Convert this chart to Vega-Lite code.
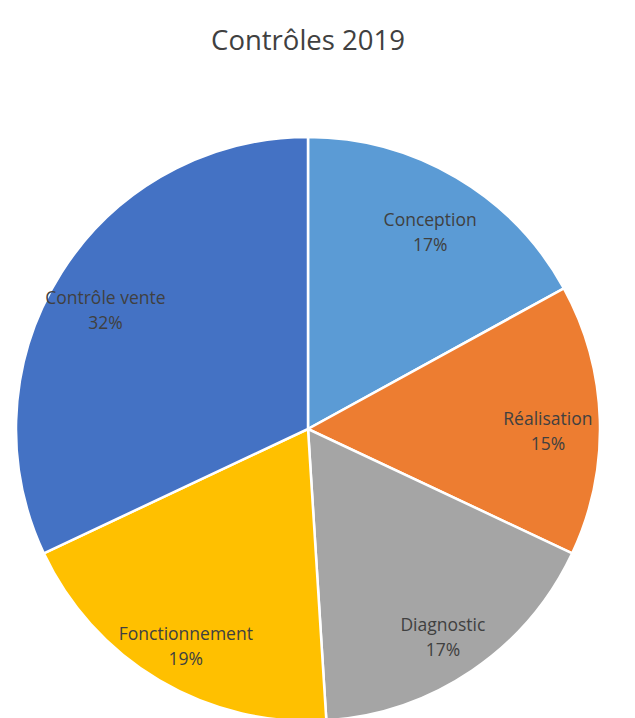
{
  "$schema": "https://vega.github.io/schema/vega-lite/v6.json",
  "width": 616,
  "height": 858,
  "autosize": "none",
  "padding": 0,
  "background": "white",
  "title": {
    "text": "Contrôles 2019",
    "font": "Open Sans",
    "fontSize": 27.5,
    "fontWeight": "normal",
    "color": "#404040",
    "anchor": "middle",
    "offset": -55
  },
  "view": {"stroke": null},
  "data": {
    "values": [
      {"category": "Conception", "value": 0.17},
      {"category": "Réalisation", "value": 0.15},
      {"category": "Diagnostic", "value": 0.17},
      {"category": "Fonctionnement", "value": 0.19},
      {"category": "Contrôle vente", "value": 0.32}
    ]
  },
  "transform": [
    {"window": [{"op": "row_number", "as": "rank"}]}
  ],
  "encoding": {
    "theta": {"field": "value", "type": "quantitative", "stack": true},
    "order": {"field": "rank", "type": "quantitative"},
    "color": {
      "field": "category",
      "type": "nominal",
      "scale": {
        "domain": ["Conception", "Réalisation", "Diagnostic", "Fonctionnement", "Contrôle vente"],
        "range": ["#5B9BD5", "#ED7D31", "#A5A5A5", "#FFC000", "#4472C4"]
      },
      "legend": null
    }
  },
  "layer": [
    {"mark": {"type": "arc", "outerRadius": 292, "stroke": "white", "strokeWidth": 2.5}},
    {
      "mark": {"type": "text", "radius": 240, "dy": -1, "font": "Open Sans", "fontSize": 17.5, "fill": "#404040"},
      "encoding": {"text": {"field": "category", "type": "nominal"}}
    },
    {
      "mark": {"type": "text", "radius": 240, "dy": 24, "font": "Open Sans", "fontSize": 17.5, "fill": "#404040"},
      "encoding": {"text": {"field": "value", "type": "quantitative", "format": ".0%"}}
    }
  ]
}
